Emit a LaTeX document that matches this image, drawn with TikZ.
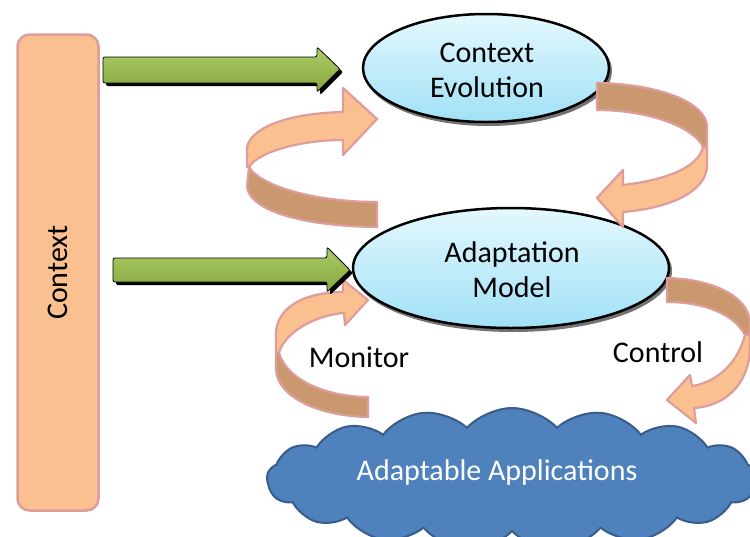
\documentclass[tikz,border=0pt]{standalone}
\usepackage{fontspec}
\setmainfont{Carlito}
\usetikzlibrary{shapes.symbols,shapes.geometric}
\definecolor{ctxfill}{HTML}{FAC090}
\definecolor{ctxline}{HTML}{DE9C9B}
\definecolor{darkband}{HTML}{C9986E}
\definecolor{greentop}{HTML}{ABCB66}
\definecolor{greenbot}{HTML}{86A83F}
\definecolor{bluetop}{HTML}{E4F8FE}
\definecolor{bluebot}{HTML}{A0E1F6}
\definecolor{cloudfill}{HTML}{4F81BD}
\definecolor{cloudline}{HTML}{385D8A}
\begin{document}
\begin{tikzpicture}[x=1pt,y=-1pt,
  txt/.style={font=\fontsize{30}{35}\selectfont, align=center, inner sep=0pt},
  light/.style={fill=ctxfill, draw=ctxline, line width=2.2pt, line join=round},
  dark/.style={fill=darkband, draw=ctxline, line width=2.2pt, line join=round},
  gshadow/.style={fill=black, rounded corners=2pt},
  gbody/.style={top color=greentop, bottom color=greenbot, draw=black, line width=0.8pt, rounded corners=2pt},
  ellbox/.style={ellipse, draw=black, line width=2.5pt, top color=bluetop, bottom color=bluebot, inner sep=0pt},
  eshadow/.style={fill=black!55},
  ctxbox/.style={draw=ctxline, fill=ctxfill, line width=2.5pt, rounded corners=12pt, inner sep=0pt},
]
\useasboundingbox (0,0) rectangle (750,536);
\clip (0,0) rectangle (750,536);
\fill[white] (0,0) rectangle (750,536);

% Context bar
\node[ctxbox, minimum width=81pt, minimum height=476pt] (ctx) at (58,272.5) {};
\node[txt, rotate=90] (ctxt) at (ctx.center) {Context};

% ellipses with shadows
\fill[eshadow] (488,71) ellipse [x radius=124, y radius=55];
\node[ellbox, minimum width=246pt, minimum height=108pt] (ce) at (486,68) {};
\node[txt] (cet) at (487,70) {Context\\Evolution};

\fill[eshadow] (513,271) ellipse [x radius=159, y radius=61];
\node[ellbox, minimum width=316pt, minimum height=120pt] (am) at (511,268) {};
\node[txt] (amt) at (512,270) {Adaptation\\Model};

% cloud
\node[cloud, cloud puffs=17, cloud puff arc=95, aspect=3.5, fill=cloudfill, draw=cloudline, line width=2pt, minimum width=490pt, minimum height=142pt, inner sep=0pt] (app) at (512,479) {};
\node[txt, text=white] (appt) at (497,472) {Adaptable Applications};

% curved arrow 1 (top left)
\draw[dark] (249,167) .. controls (262,188) and (320,202) .. (377,202) -- (377,227) .. controls (300,226) and (250,210) .. (247,187) -- cycle;
\draw[light] (247,147) .. controls (252,125) and (295,113) .. (343,112) -- (343,88) -- (377,119) -- (343,155) -- (343,140) .. controls (300,140) and (258,152) .. (249,167) -- (247,167) -- cycle;

% curved arrow 2 (top right)
\draw[dark] (597,83) .. controls (660,84) and (707,103) .. (707,127) -- (707,147) -- (703,147) .. controls (695,128) and (650,110) .. (597,110) -- cycle;
\draw[light] (703,147) -- (707,147) -- (707,167) .. controls (705,192) and (670,208) .. (623,212) -- (623,227) -- (597,198) -- (623,170) -- (623,185) .. controls (665,180) and (698,168) .. (703,147) -- cycle;

% curved arrow 3 (monitor)
\draw[dark] (279,353) .. controls (288,382) and (330,397) .. (368,397) -- (368,417) .. controls (320,416) and (278,398) .. (276,370) -- (276,353) -- cycle;
\draw[light] (276,332) .. controls (278,305) and (308,292) .. (343,292) -- (343,280) -- (368,300) -- (345,325) -- (344,313) .. controls (315,315) and (284,333) .. (279,353) -- (276,353) -- cycle;

% curved arrow 4 (control)
\draw[dark] (667,278) .. controls (710,279) and (748,295) .. (750,322) -- (750,335) -- (745,335) .. controls (735,315) and (705,302) .. (667,302) -- cycle;
\draw[light] (745,335) -- (750,335) -- (750,350) .. controls (748,385) and (725,406) .. (694,408) -- (696,423) -- (667,400) -- (690,375) -- (692,386) .. controls (718,382) and (738,362) .. (745,335) -- cycle;

\node[txt] (mon) at (359,357) {Monitor};
\node[txt] (con) at (658,352) {Control};

% green arrows
\fill[gshadow] (106,60) -- (320,60) -- (320,50) -- (343,72) -- (320,95) -- (320,86) -- (106,86) -- cycle;
\draw[gbody] (103,57) -- (317,57) -- (317,47) -- (340,69) -- (317,92) -- (317,83) -- (103,83) -- cycle;

\fill[gshadow] (116,261) -- (330,261) -- (330,250) -- (353,273) -- (330,295) -- (330,285) -- (116,285) -- cycle;
\draw[gbody] (113,258) -- (327,258) -- (327,247) -- (350,270) -- (327,292) -- (327,282) -- (113,282) -- cycle;
\end{tikzpicture}
\end{document}
